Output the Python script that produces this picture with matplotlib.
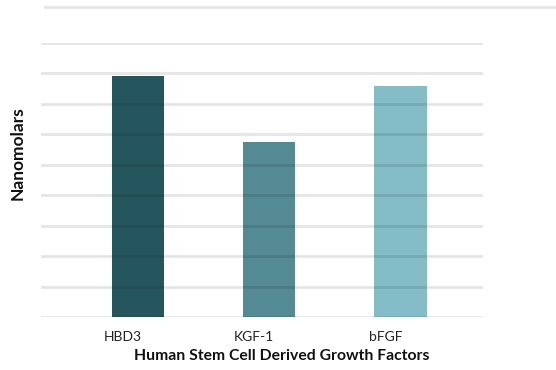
import matplotlib
matplotlib.use("Agg")
import matplotlib.pyplot as plt
import matplotlib.transforms as mtransforms
from matplotlib.lines import Line2D

categories = ["HBD3", "KGF-1", "bFGF"]
values = [7.9, 5.76, 7.6]
colors = ["#26565D", "#548A93", "#84BCC7"]
yticks = list(range(0, 10))

plt.rcParams['font.family'] = ['Lato', 'DejaVu Sans']

W, H = 556, 370
fig = plt.figure(figsize=(W / 100, H / 100), dpi=100)
ax = fig.add_axes([41 / W, 1 - 317 / H, (483 - 41) / W, (317 - 43) / H])

x = list(range(len(categories)))
ax.bar(x, values, width=0.40, color=colors, zorder=2)
ax.set_xlim(-0.74, 2.63)
ax.set_ylim(0, 9)
ax.set_yticks(yticks)
ax.set_yticklabels([])
ax.tick_params(axis='y', length=0)
ax.set_axisbelow(False)
ax.grid(axis='y', color='black', alpha=0.1, linewidth=2.0, zorder=3)
for s in ax.spines.values():
    s.set_visible(False)

ax.set_xticks(x)
ax.set_xticklabels(categories, fontsize=10, color='#222222')
ax.tick_params(axis='x', length=0, pad=10)
offset = mtransforms.ScaledTranslation(-15 / 100, 0, fig.dpi_scale_trans)
for lbl in ax.get_xticklabels():
    lbl.set_transform(lbl.get_transform() + offset)

fig.text(282 / W, 1 - 356 / H, "Human Stem Cell Derived Growth Factors",
         ha='center', va='center', fontsize=11.3, fontweight='bold', color='#111111')
fig.text(18 / W, 1 - 153 / H, "Nanomolars", rotation=90,
         ha='center', va='center', fontsize=12.5, fontweight='bold', color='#111111')

fig.add_artist(Line2D([45 / W, 1.0], [1 - 6.7 / H, 1 - 6.7 / H],
                      transform=fig.transFigure, color='black', alpha=0.1, linewidth=2.0))

fig.savefig("out.png", dpi=100)
